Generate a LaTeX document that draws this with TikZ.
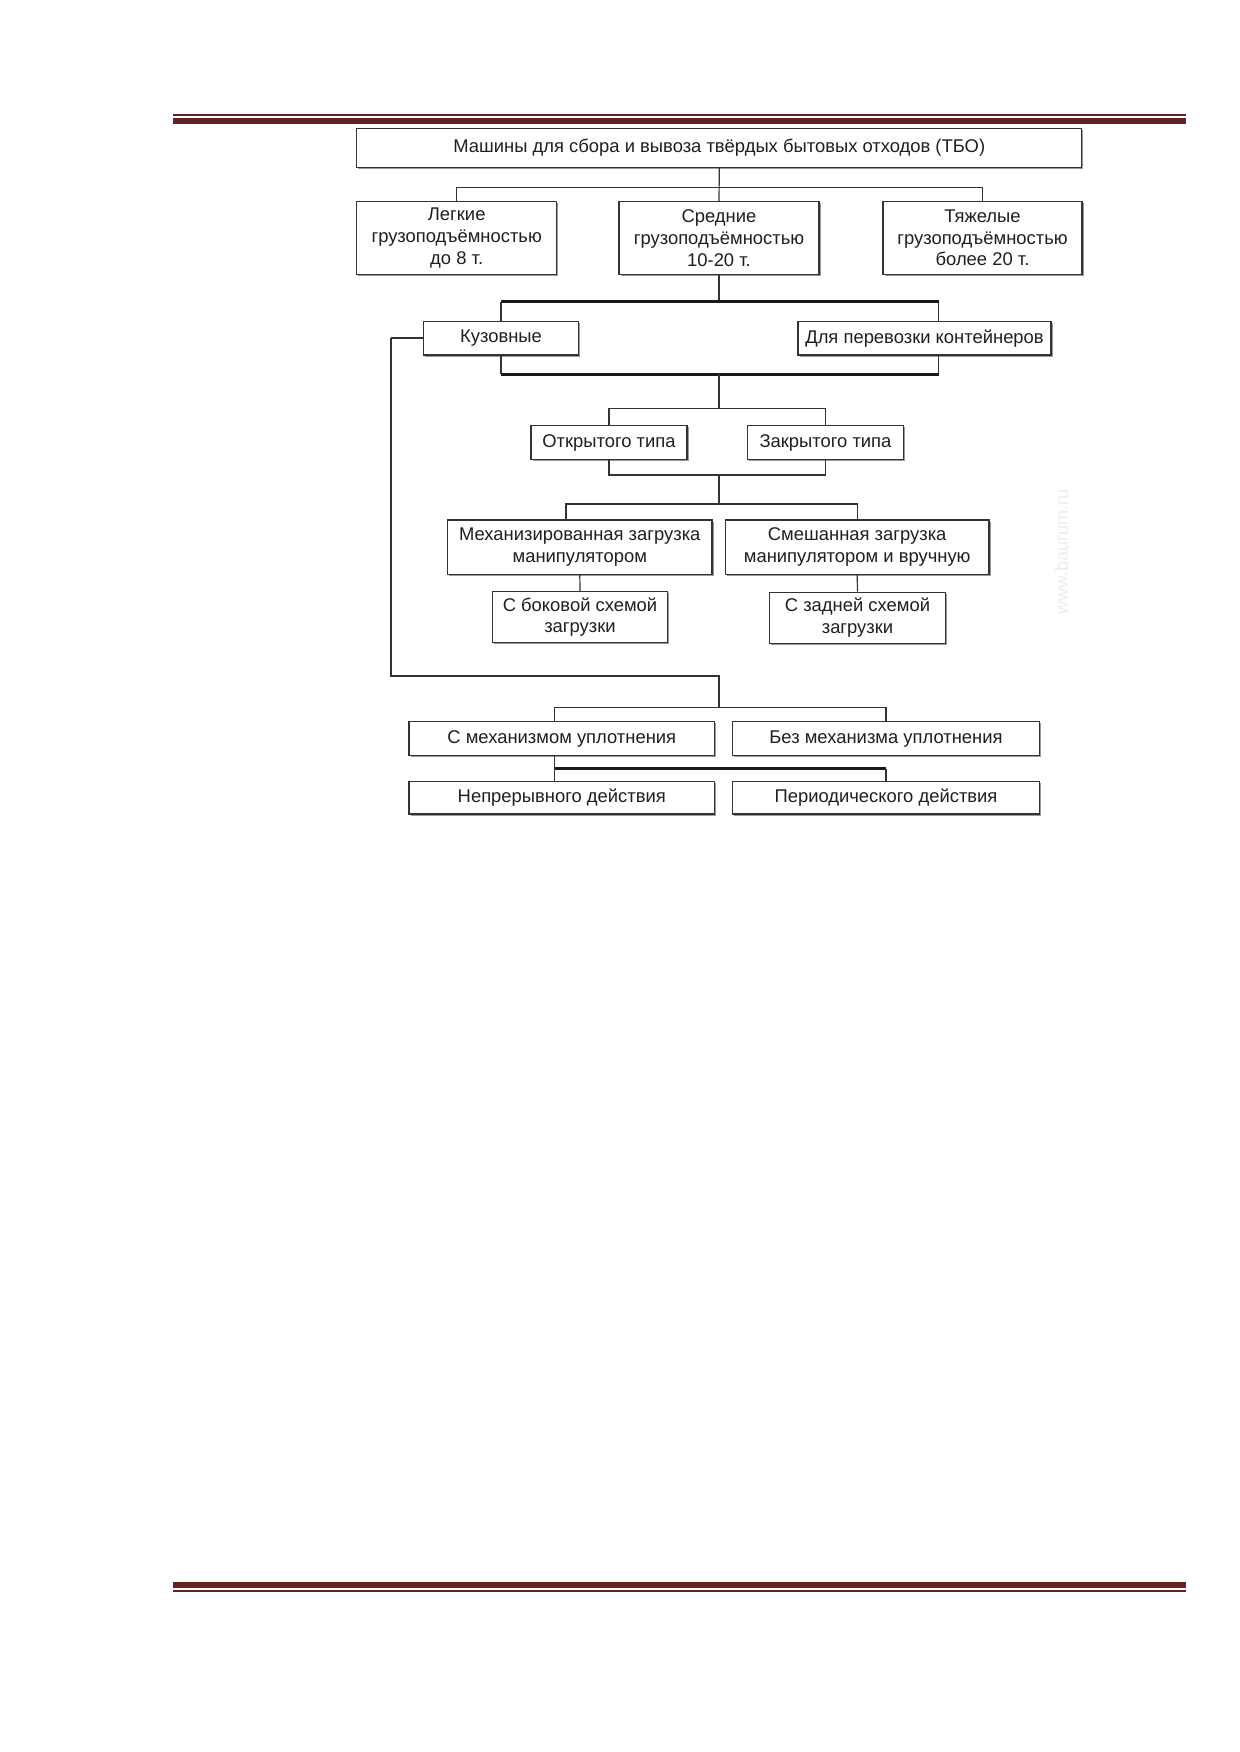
\documentclass[tikz,border=0pt]{standalone}
\usepackage{fontspec}
\setmainfont{Liberation Sans}
\usetikzlibrary{shadows}
\definecolor{rulecol}{HTML}{622423}
\definecolor{linecol}{HTML}{333333}
\begin{document}
\begin{tikzpicture}[x=1pt,y=-1pt,
  sz/.style 2 args={minimum width=#1pt, minimum height=#2pt},
  box/.style={draw=linecol, line width=1.3pt, fill=white, inner sep=0pt, align=center,
    font=\fontsize{18.4}{21.7}\selectfont, text=black!88,
    drop shadow={shadow xshift=1.6pt, shadow yshift=-1.6pt, opacity=1, fill=black!40}},
  conn/.style={draw=linecol, line width=1.2pt},
  heavy/.style={draw=black!90, line width=2.8pt},
  rulethin/.style={draw=rulecol, line width=1.6pt},
  rulethick/.style={draw=rulecol, line width=5.7pt}]
\useasboundingbox (0,0) rectangle (1239,1752);
\fill[white] (0,0) rectangle (1239,1752);
% header and footer rules
\coordinate (hl1) at (173,115.3); \coordinate (hr1) at (1186,115.3);
\coordinate (hl2) at (173,121.2); \coordinate (hr2) at (1186,121.2);
\draw[rulethin] (hl1) -- (hr1);
\draw[rulethick] (hl2) -- (hr2);
\coordinate (fl1) at (173,1585.2); \coordinate (fr1) at (1186,1585.2);
\coordinate (fl2) at (173,1590.8); \coordinate (fr2) at (1186,1590.8);
\draw[rulethick] (fl1) -- (fr1);
\draw[rulethin] (fl2) -- (fr2);
% watermark
\node[rotate=90, text=black!7, font=\fontsize{18}{18}\selectfont] (wm) at (1061.5,552) {www.baurum.ru};
% boxes
\node[box, sz={725}{39}] (title) at (719.3,147.8) {Машины для сбора и вывоза твёрдых бытовых отходов (ТБО)};
\node[box, sz={200}{72.6}] (legk) at (456.7,238) {Легкие\\грузоподъёмностью\\до 8 т.};
\node[box, sz={200}{72.6}] (sred) at (719,238) {Средние\\грузоподъёмностью\\10-20 т.};
\node[box, sz={199}{72.6}] (tyazh) at (982.5,238) {Тяжелые\\грузоподъёмностью\\более 20 т.};
\node[box, sz={155.4}{33.3}] (kuz) at (501,338.4) {Кузовные};
\node[box, sz={253}{33.3}] (dlya) at (924.5,338.4) {Для перевозки контейнеров};
\node[box, sz={156}{33.6}] (otkr) at (609,442.5) {Открытого типа};
\node[box, sz={155.6}{33.6}] (zakr) at (825.5,442.5) {Закрытого типа};
\node[box, sz={264.3}{54.3}] (mech) at (579.8,547.2) {Механизированная загрузка\\манипулятором};
\node[box, sz={263.8}{54.3}] (smesh) at (857.2,547.2) {Смешанная загрузка\\манипулятором и вручную};
\node[box, sz={175}{51}] (bok) at (580,617.2) {С боковой схемой\\загрузки};
\node[box, sz={175.8}{51}] (zad) at (857.5,617.8) {С задней схемой\\загрузки};
\node[box, sz={305.5}{34}] (smeh) at (561.8,738.7) {С механизмом уплотнения};
\node[box, sz={307}{34}] (bez) at (886,738.7) {Без механизма уплотнения};
\node[box, sz={305.5}{32.3}] (nepr) at (561.8,797.8) {Непрерывного действия};
\node[box, sz={307}{32.3}] (period) at (886,797.8) {Периодического действия};
% level 1
\coordinate (bar1) at (719,187.3);
\draw[conn] (title.south) -- (sred.north);
\draw[conn] (legk.north) |- (bar1) -| (tyazh.north);
% level 2 (brackets with heavy horizontals)
\coordinate (bar2) at (719,301.7);
\coordinate (dlyaT) at (938.7,321.7);
\coordinate (dlyaB) at (938.7,355);
\coordinate (bar3) at (719,374.3);
\draw[conn] (sred.south) -- (bar2);
\draw[conn] (kuz.north) -- (kuz.north |- bar2);
\draw[conn] (dlyaT) -- (dlyaT |- bar2);
\draw[heavy] (kuz.north |- bar2) -- (dlyaT |- bar2);
\draw[conn] (kuz.south) -- (kuz.south |- bar3);
\draw[conn] (dlyaB) -- (dlyaB |- bar3);
\draw[heavy] (kuz.south |- bar3) -- (dlyaB |- bar3);
% level 3
\coordinate (bar4) at (719,408.3);
\draw[conn] (bar3) -- (bar4);
\draw[conn] (otkr.north) |- (bar4) -| (zakr.north);
\coordinate (bar5) at (719,475);
\draw[conn] (otkr.south) |- (bar5) -| (zakr.south);
% level 4
\coordinate (bar6) at (719,504);
\coordinate (mechT) at (566,520);
\draw[conn] (bar5) -- (bar6);
\draw[conn] (mechT) |- (bar6) -| (smesh.north);
\draw[conn] (mech.south) -- (bok.north);
\draw[conn] (smesh.south) -- (zad.north);
% left feed line
\coordinate (lf1) at (391,338.4);
\coordinate (lf2) at (391,676);
\coordinate (lf3) at (719,676);
\coordinate (bar7) at (719,707.7);
\draw[conn, line width=2pt] (kuz.west) -- (lf1);
\draw[conn] (lf1) -- (lf2) -- (lf3) -- (bar7);
\coordinate (smehT) at (554.8,721.7);
\draw[conn] (smehT) |- (bar7) -| (bez.north);
% bottom level
\coordinate (smehB) at (554.8,755.7);
\coordinate (neprT) at (554.8,781.7);
\coordinate (bar8) at (886,768.7);
\draw[conn] (smehB) -- (neprT);
\draw[heavy] (smehB |- bar8) -- (bar8);
\draw[conn] (bar8) -- (period.north);
\end{tikzpicture}
\end{document}
